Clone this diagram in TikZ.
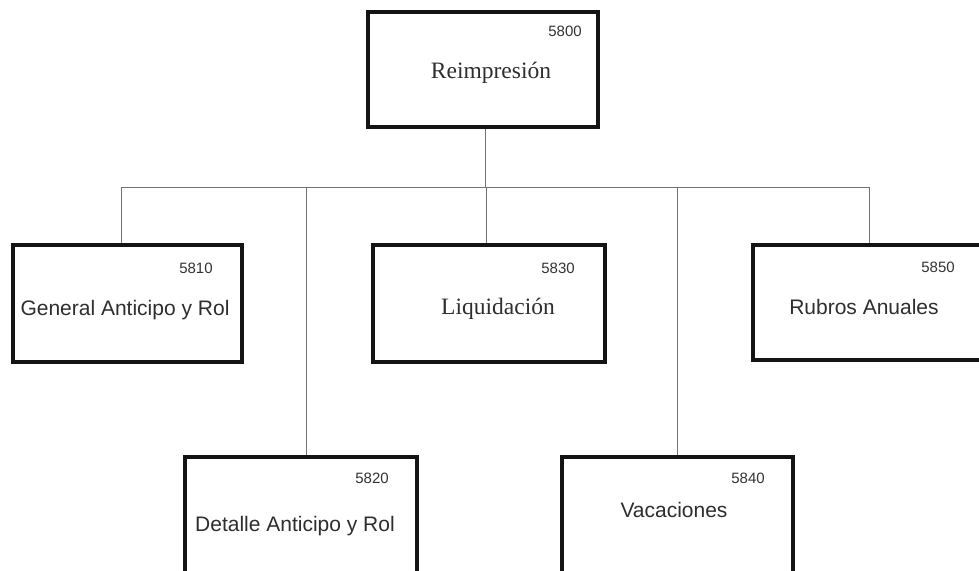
\documentclass[tikz,border=0pt]{standalone}
\usepackage{fontspec}
\setmainfont{Liberation Serif}
\setsansfont{Liberation Sans}
\begin{document}
\begin{tikzpicture}[x=1pt,y=-1pt,
  box/.style={draw=black!92,line width=3.4pt,rectangle,inner sep=0pt},
  conn/.style={draw=black!55,line width=0.9pt},
  num/.style={font=\sffamily\fontsize{15}{15}\selectfont,text=black!80,anchor=base,inner sep=0pt},
  sanslabel/.style={font=\sffamily\fontsize{21}{21}\selectfont,text=black!82,anchor=base,inner sep=0pt},
  seriflabel/.style={font=\rmfamily\fontsize{23.5}{23.5}\selectfont,text=black!82,anchor=base,inner sep=0pt}]
\useasboundingbox (0,0) rectangle (979,570);
\clip (0,0) rectangle (979,570);
\fill[white] (0,0) rectangle (979,570);
% boxes
\node[box,minimum width=230pt,minimum height=115pt] (b5800) at (483,69.5) {};
\node[box,minimum width=229pt,minimum height=117pt] (b5810) at (127.5,303.5) {};
\node[box,minimum width=232pt,minimum height=117pt] (b5830) at (489,303.5) {};
\node[box,minimum width=232pt,minimum height=115pt] (b5850) at (869,302.5) {};
\node[box,minimum width=232pt,minimum height=117pt] (b5820) at (301,515.5) {};
\node[box,minimum width=231pt,minimum height=117pt] (b5840) at (677.5,515.5) {};
% texts
\node[num] (n5800) at (565,36) {5800};
\node[seriflabel] (t5800) at (491,78) {Reimpresión};
\node[num] (n5810) at (196,273) {5810};
\node[sanslabel] (t5810) at (125,315) {General Anticipo y Rol};
\node[num] (n5830) at (558,273) {5830};
\node[seriflabel] (t5830) at (498,314) {Liquidación};
\node[num] (n5850) at (938,272) {5850};
\node[sanslabel] (t5850) at (864,314) {Rubros Anuales};
\node[num] (n5820) at (372,483) {5820};
\node[sanslabel] (t5820) at (295,531) {Detalle Anticipo y Rol};
\node[num] (n5840) at (748,483) {5840};
\node[sanslabel] (t5840) at (674,517) {Vacaciones};
% connectors
\coordinate (bus) at (485,187);
\coordinate (busL) at (121,187);
\coordinate (busR) at (869,187);
\draw[conn] ([xshift=2pt]b5800.south) -- (bus);
\draw[conn] (busL) -- (busR);
\draw[conn] (busL) -- (busL |- b5810.north);
\draw[conn] (bus -| b5820.north) ++(5,0) -- ([xshift=5pt]b5820.north);
\draw[conn] (bus -| b5830.north) ++(-3,0) -- ([xshift=-3pt]b5830.north);
\draw[conn] (bus -| b5840.north) -- (b5840.north);
\draw[conn] (busR) -- (b5850.north);
\end{tikzpicture}
\end{document}
